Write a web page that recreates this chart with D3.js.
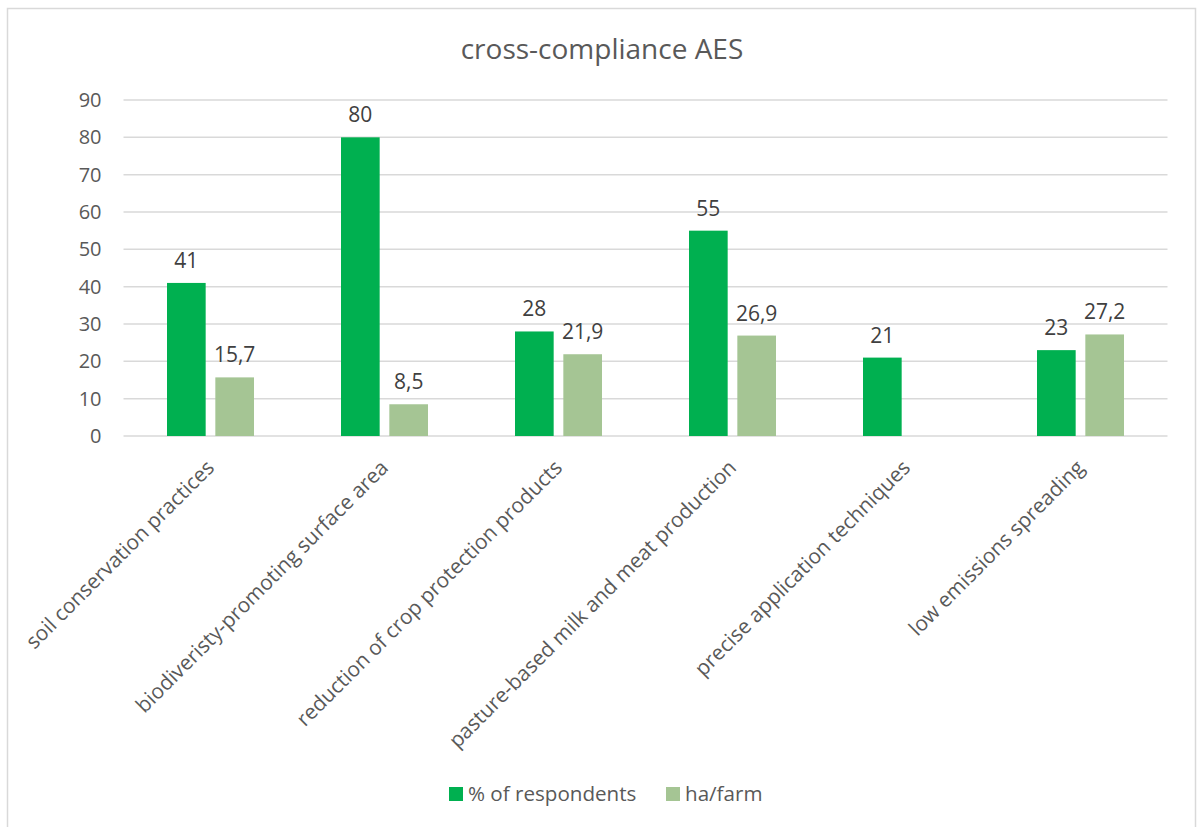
<!DOCTYPE html>
<html>
<head>
<meta charset="utf-8">
<script src="https://cdn.jsdelivr.net/npm/d3@7"></script>
<style>
  html, body { margin: 0; padding: 0; background: #fff; }
  svg { display: block; font-family: "Open Sans", "Noto Sans", sans-serif; }
</style>
</head>
<body>
<svg id="chart" width="1198" height="827"></svg>
<script>
// Categories of cross-compliance agri-environmental schemes
const categories = [
  "soil conservation practices",
  "biodiveristy-promoting surface area",
  "reduction of crop protection products",
  "pasture-based milk and meat production",
  "precise application techniques",
  "low emissions spreading"
];
const seriesNames = ["% of respondents", "ha/farm"];
const respondents = [41, 80, 28, 55, 21, 23];
const haPerFarm = [15.7, 8.5, 21.9, 26.9, null, 27.2];
const yTicks = [0, 10, 20, 30, 40, 50, 60, 70, 80, 90];
const colors = ["#00B050", "#A5C594"];
const textColor = "#595959";

const plot = { left: 123.5, right: 1167.5, top: 100, bottom: 436 };

const svg = d3.select("#chart");

// Outer frame
svg.append("rect")
  .attr("x", 7.5).attr("y", 8.5)
  .attr("width", 1188).attr("height", 830)
  .attr("fill", "#fff").attr("stroke", "#D9D9D9").attr("stroke-width", 1.5);

// Title
svg.append("text")
  .attr("x", 602).attr("y", 59)
  .attr("text-anchor", "middle")
  .attr("fill", textColor)
  .style("font-size", "28px")
  .text("cross-compliance AES");

const x0 = d3.scaleBand()
  .domain(categories)
  .range([plot.left, plot.right])
  .paddingInner(0.5)
  .paddingOuter(0.25);

const x1 = d3.scaleBand()
  .domain(seriesNames)
  .range([0, x0.bandwidth()])
  .paddingInner(0.2);

const y = d3.scaleLinear().domain([0, 90]).range([plot.bottom, plot.top]);

// Gridlines
svg.append("g")
  .selectAll("line")
  .data(yTicks)
  .join("line")
  .attr("x1", plot.left).attr("x2", plot.right)
  .attr("y1", d => y(d)).attr("y2", d => y(d))
  .attr("stroke", "#D9D9D9").attr("stroke-width", 1.5);

// Y axis labels
const yAxis = d3.axisLeft(y).tickValues(yTicks).tickSize(0).tickPadding(22);
const yg = svg.append("g")
  .attr("transform", `translate(${plot.left},0)`)
  .call(yAxis);
yg.select(".domain").remove();
yg.selectAll("text")
  .attr("fill", textColor)
  .style("font-family", "\"Open Sans\", sans-serif")
  .style("font-size", "20px");

// Bars
const rows = categories.map((c, i) => ({
  cat: c,
  vals: [respondents[i], haPerFarm[i]]
}));

const groups = svg.append("g")
  .selectAll("g")
  .data(rows)
  .join("g")
  .attr("transform", d => `translate(${x0(d.cat)},0)`);

groups.selectAll("rect")
  .data(d => d.vals.map((v, j) => ({ key: seriesNames[j], v, j })).filter(e => e.v != null))
  .join("rect")
  .attr("x", d => x1(d.key))
  .attr("width", x1.bandwidth())
  .attr("y", d => y(d.v))
  .attr("height", d => y(0) - y(d.v))
  .attr("fill", d => colors[d.j]);

// Data labels
const fmt = v => String(v).replace(".", ",");
groups.selectAll("text")
  .data(d => d.vals.map((v, j) => ({ key: seriesNames[j], v, j })).filter(e => e.v != null))
  .join("text")
  .attr("x", d => x1(d.key) + x1.bandwidth() / 2)
  .attr("y", d => y(d.v) - 15)
  .attr("text-anchor", "middle")
  .attr("fill", "#404040")
  .style("font-size", "21px")
  .text(d => fmt(d.v));

// Category labels, rotated
svg.append("g")
  .selectAll("text")
  .data(categories)
  .join("text")
  .attr("transform", d => `translate(${x0(d) + x0.bandwidth() / 2 + 5},${plot.bottom + 33}) rotate(-45)`)
  .attr("text-anchor", "end")
  .attr("fill", textColor)
  .style("font-size", "20.8px")
  .text(d => d);

// Legend
const legend = svg.append("g").attr("transform", "translate(449,787)");
const legendItems = legend.selectAll("g")
  .data(seriesNames)
  .join("g")
  .attr("transform", (d, i) => `translate(${i === 0 ? 0 : 217},0)`);
legendItems.append("rect")
  .attr("width", 14).attr("height", 14)
  .attr("fill", (d, i) => colors[i]);
legendItems.append("text")
  .attr("x", 19).attr("y", 14)
  .attr("fill", textColor)
  .style("font-size", "20.6px")
  .text(d => d);
</script>
</body>
</html>
